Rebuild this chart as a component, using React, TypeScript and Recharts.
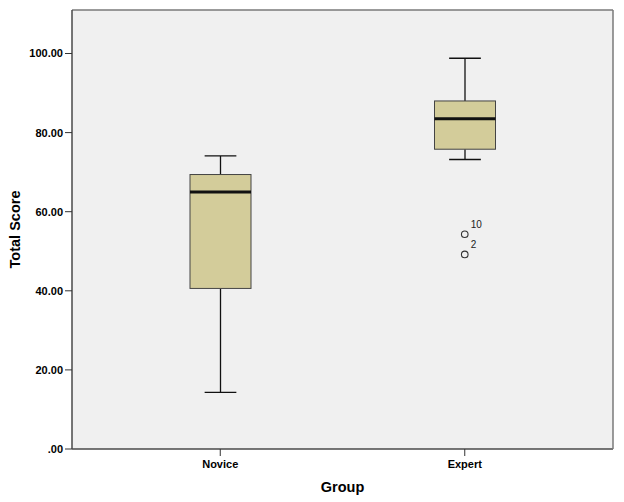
import { ComposedChart, Bar, Line, XAxis, YAxis, CartesianGrid, ReferenceLine } from 'recharts';

// Box plot summaries per group
const groups = ['Novice', 'Expert'];
const whiskerLow = [14.3, 73.2];
const q1 = [40.6, 75.8];
const medians = [65.0, 83.5];
const q3 = [69.4, 88.0];
const whiskerHigh = [74.1, 98.8];

// Outliers (only Expert has them)
const outlierA = [null, 54.3];
const outlierB = [null, 49.2];
const outlierAIds = ['', '10'];
const outlierBIds = ['', '2'];

const yTicks = [0, 20, 40, 60, 80, 100];
const yMax = 111;

const data = groups.map((g, i) => ({
  group: g,
  range: [whiskerLow[i], whiskerHigh[i]],
  low: whiskerLow[i],
  q1: q1[i],
  median: medians[i],
  q3: q3[i],
  high: whiskerHigh[i],
  outA: outlierA[i],
  outB: outlierB[i],
  idA: outlierAIds[i],
  idB: outlierBIds[i],
}));

const font = "Arial, 'Liberation Sans', sans-serif";

function BoxShape(props: any) {
  const { x, y, width, height, payload } = props;
  const { low, high } = payload;
  const k = height / (high - low);
  const py = (v: number) => y + (high - v) * k;
  const cx = x + width / 2;
  const cap = width * 0.26;
  return (
    <g>
      <line x1={cx} x2={cx} y1={py(high)} y2={py(payload.q3)} stroke="#111" strokeWidth={1.3} />
      <line x1={cx} x2={cx} y1={py(payload.q1)} y2={py(low)} stroke="#111" strokeWidth={1.3} />
      <line x1={cx - cap} x2={cx + cap} y1={py(high)} y2={py(high)} stroke="#111" strokeWidth={1.3} />
      <line x1={cx - cap} x2={cx + cap} y1={py(low)} y2={py(low)} stroke="#111" strokeWidth={1.3} />
      <rect
        x={x}
        y={py(payload.q3)}
        width={width}
        height={py(payload.q1) - py(payload.q3)}
        fill="#d3cc9a"
        stroke="#444"
        strokeWidth={1}
      />
      <line x1={x} x2={x + width} y1={py(payload.median)} y2={py(payload.median)} stroke="#111" strokeWidth={3} />
    </g>
  );
}

function makeOutlierDot(idKey: string) {
  return (props: any) => {
    const { cx, cy, payload, index } = props;
    if (cy == null || isNaN(cy) || !payload[idKey]) return <g key={`o-${idKey}-${index}`} />;
    return (
      <g key={`o-${idKey}-${index}`}>
        <circle cx={cx} cy={cy} r={3.3} fill="none" stroke="#333" strokeWidth={1.1} />
        <text x={cx + 6} y={cy - 6} fontSize={10} fontFamily={font} fill="#222">
          {payload[idKey]}
        </text>
      </g>
    );
  };
}

export default function App() {
  return (
    <div style={{ position: 'absolute', left: 0, top: 0, width: 624, height: 502, background: '#fff' }}>
      <ComposedChart
        width={624}
        height={502}
        data={data}
        margin={{ top: 10, right: 10, left: 0, bottom: 0 }}
        barSize={61}
      >
        <CartesianGrid fill="#f0f0f0" horizontal={false} vertical={false} />
        <XAxis
          dataKey="group"
          padding={{ left: 26, right: 26 }}
          height={53}
          tickSize={7}
          tickMargin={4}
          axisLine={{ stroke: '#4a4a4a', strokeWidth: 1.5 }}
          tickLine={{ stroke: '#333' }}
          tick={{ fill: '#000', fontSize: 11, fontWeight: 'bold', fontFamily: font }}
          label={{
            value: 'Group',
            position: 'insideBottom',
            offset: 10,
            style: { fill: '#000', fontSize: 14.5, fontWeight: 'bold', fontFamily: font },
          }}
        />
        <YAxis
          width={72}
          domain={[0, yMax]}
          ticks={yTicks}
          allowDataOverflow
          tickSize={7}
          tickMargin={2}
          tickFormatter={(v: number) => (v === 0 ? '.00' : v.toFixed(2))}
          axisLine={{ stroke: '#4a4a4a', strokeWidth: 1.5 }}
          tickLine={{ stroke: '#333' }}
          tick={{ fill: '#000', fontSize: 11, fontWeight: 'bold', fontFamily: font }}
          label={{
            value: 'Total Score',
            angle: -90,
            position: 'insideLeft',
            offset: 15,
            style: { textAnchor: 'middle', fill: '#000', fontSize: 14.5, fontWeight: 'bold', fontFamily: font },
          }}
        />
        <YAxis
          yAxisId="right"
          orientation="right"
          width={1}
          domain={[0, yMax]}
          tick={false}
          tickLine={false}
          axisLine={{ stroke: '#7a7a7a', strokeWidth: 1.5 }}
        />
        <ReferenceLine y={yMax} stroke="#7a7a7a" strokeWidth={1.5} ifOverflow="visible" />
        <Bar dataKey="range" shape={BoxShape} isAnimationActive={false} />
        <Line
          dataKey="outA"
          stroke="none"
          dot={makeOutlierDot('idA')}
          activeDot={false}
          isAnimationActive={false}
        />
        <Line
          dataKey="outB"
          stroke="none"
          dot={makeOutlierDot('idB')}
          activeDot={false}
          isAnimationActive={false}
        />
      </ComposedChart>
    </div>
  );
}
